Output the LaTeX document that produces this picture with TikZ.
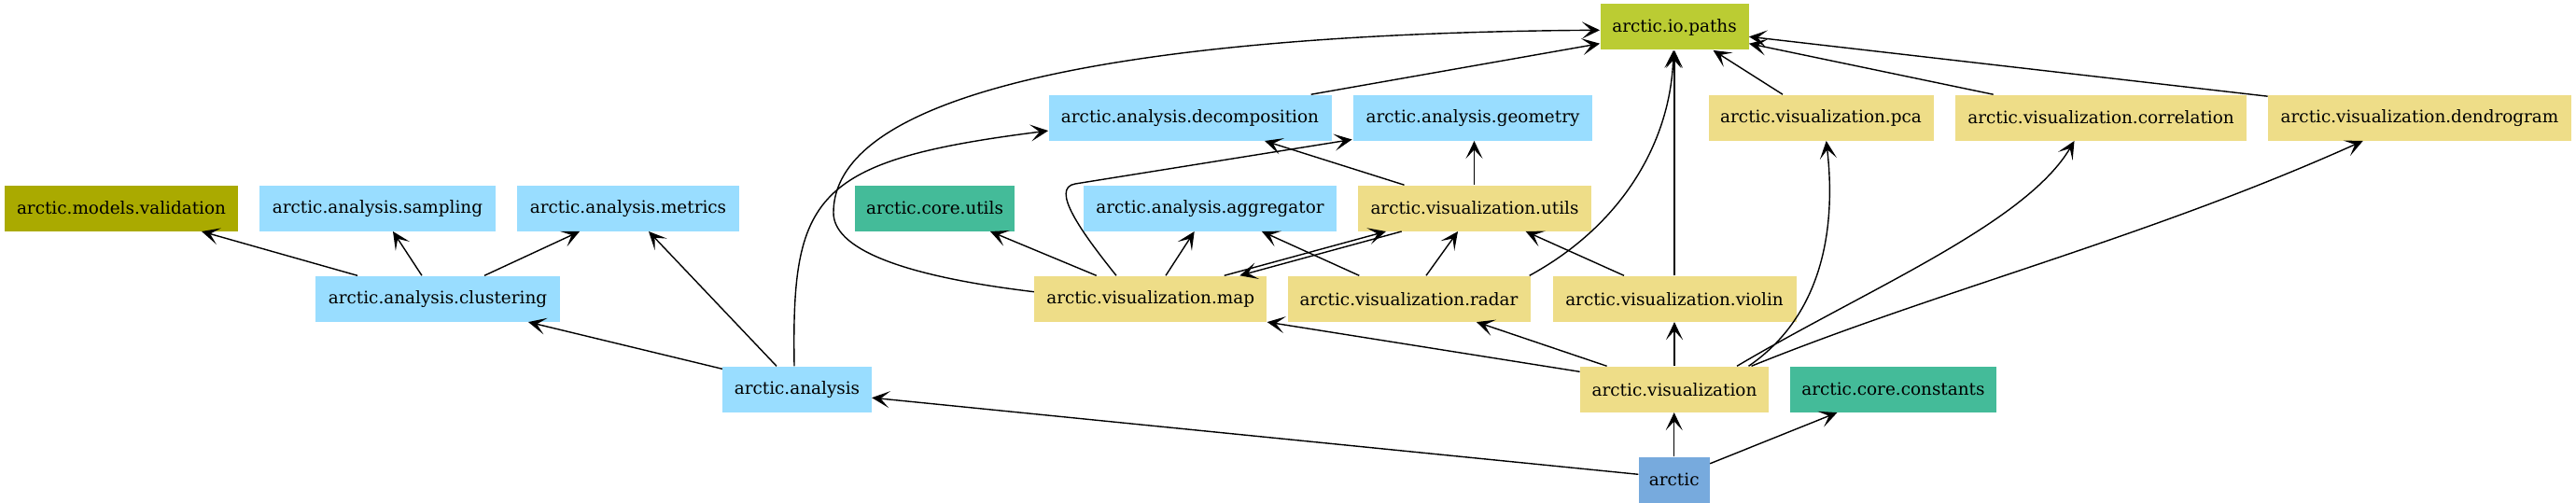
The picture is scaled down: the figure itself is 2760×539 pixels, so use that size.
\documentclass[tikz,border=0pt]{standalone}
\usepackage{fontspec}
\setmainfont{DejaVu Serif}
\usetikzlibrary{arrows.meta,calc}
\definecolor{cblue}{HTML}{99DDFF}
\definecolor{cyel}{HTML}{EEDD88}
\definecolor{cmint}{HTML}{44BB99}
\definecolor{cpear}{HTML}{BBCC33}
\definecolor{colive}{HTML}{AAAA00}
\definecolor{carctic}{HTML}{77AADD}
\begin{document}
\begin{tikzpicture}[x=0.5pt,y=-0.5pt,
  bx/.style={minimum width=#1*0.5pt, minimum height=24.5pt, inner sep=0pt, font=\fontsize{9.2}{11}\selectfont},
  e/.style={draw, line width=0.7pt, -{Stealth[length=9.5pt,width=9pt,inset=4.8pt]}}]
\useasboundingbox (0,0) rectangle (2760,539);
\node[bx=159, fill=cpear] (paths) at (1794,29) {arctic.io.paths};
\node[bx=303, fill=cblue] (decomp) at (1275,126.1) {arctic.analysis.decomposition};
\node[bx=256, fill=cblue] (geom) at (1578,126.1) {arctic.analysis.geometry};
\node[bx=241, fill=cyel] (pca) at (1951,126.1) {arctic.visualization.pca};
\node[bx=312, fill=cyel] (corr) at (2251,126.1) {arctic.visualization.correlation};
\node[bx=325, fill=cyel] (dendro) at (2592.5,126.1) {arctic.visualization.dendrogram};
\node[bx=250.5, fill=colive] (valid) at (130,223.1) {arctic.models.validation};
\node[bx=253, fill=cblue] (sampl) at (404.5,223.1) {arctic.analysis.sampling};
\node[bx=237.5, fill=cblue] (metr) at (673,223.1) {arctic.analysis.metrics};
\node[bx=171.4, fill=cmint] (cutils) at (1001.5,223.1) {arctic.core.utils};
\node[bx=271.7, fill=cblue] (aggr) at (1296.5,223.1) {arctic.analysis.aggregator};
\node[bx=250.7, fill=cyel] (vutils) at (1580,223.1) {arctic.visualization.utils};
\node[bx=262, fill=cblue] (clust) at (469,320.2) {arctic.analysis.clustering};
\node[bx=249, fill=cyel] (vmap) at (1232.7,320.2) {arctic.visualization.map};
\node[bx=260, fill=cyel] (radar) at (1509.5,320.2) {arctic.visualization.radar};
\node[bx=261, fill=cyel] (violin) at (1794,320.2) {arctic.visualization.violin};
\node[bx=159.5, fill=cblue] (analysis) at (854,417.2) {arctic.analysis};
\node[bx=202, fill=cyel] (vis) at (1794,417.2) {arctic.visualization};
\node[bx=221.6, fill=cmint] (cconst) at (2028.4,417.2) {arctic.core.constants};
\node[bx=76, fill=carctic] (arctic) at (1793.7,514.3) {arctic};
% arctic
\draw[e] ($(arctic.west)+(0,-6)$) -- ($(analysis.east)+(0,9)$);
\draw[e] (arctic.north) -- (arctic.north |- vis.south);
\draw[e] ($(arctic.east)+(0,-17.5)$) -- ($(cconst.south)+(-60,0)$);
% analysis
\draw[e] ($(analysis.north west)+(0,3)$) -- ($(clust.south)+(97,0)$);
\draw[e] ($(analysis.north)+(-22,0)$) -- ($(metr.south)+(22,0)$);
\draw[e] ($(analysis.north)+(-3,0)$) .. controls (848,210) and (870,172) .. ($(decomp.west)+(0,14)$);
% clustering
\draw[e] ($(clust.north)+(-86,0)$) -- ($(valid.south)+(86,0)$);
\draw[e] ($(clust.north)+(-17,0)$) -- ($(sampl.south)+(16.5,0)$);
\draw[e] ($(clust.north)+(50,0)$) -- ($(metr.south)+(-52,0)$);
% visualization.map
\draw[e] ($(vmap.west)+(0,-7.5)$) .. controls (960,295) and (893,265) .. (893,228) .. controls (893,80) and (1300,35) .. ($(paths.west)+(0,3.3)$);
\draw[e] ($(vmap.north)+(-58,0)$) -- ($(cutils.south)+(59.5,0)$);
\draw[e] ($(vmap.north)+(-36.7,0)$) .. controls (1158,248) and (1125,201.4) .. (1152,197) -- ($(geom.south west)+(-1,-1.5)$);
\draw[e] ($(vmap.north)+(16.3,0)$) -- ($(aggr.south)+(-16.8,0)$);
\draw[e] ($(vmap.north)+(79,0)$) -- ($(vutils.south)+(-95,0)$);
% visualization.utils
\draw[e] ($(vutils.south)+(-78.3,0)$) -- ($(vmap.north)+(95.6,0)$);
\draw[e] ($(vutils.north)+(-75.5,0)$) -- ($(decomp.south)+(80,0)$);
\draw[e] ($(vutils.north)+(-0.5,0)$) -- ($(geom.south)+(1.5,0)$);
% decomposition
\draw[e] ($(decomp.north)+(129.7,0)$) -- ($(paths.west)+(0,17.7)$);
% radar
\draw[e] ($(radar.north)+(-53.2,0)$) -- ($(aggr.south)+(55.4,0)$);
\draw[e] ($(radar.north)+(18.5,0)$) -- ($(vutils.south)+(-18,0)$);
\draw[e] ($(radar.north east)+(-1.2,0)$) .. controls (1740,240) and (1790,150) .. ($(paths.south)+(-1,0)$);
% violin
\draw[e] ($(violin.north)+(-54,0)$) -- ($(vutils.south)+(54.7,0)$);
\draw[e] (violin.north) -- (paths.south);
% visualization
\draw[e] (vis.north) -- (violin.south);
\draw[e] ($(vis.north)+(-72.4,0)$) -- ($(radar.south)+(72.5,0)$);
\draw[e] ($(vis.north west)+(0,6)$) -- (vmap.south east);
\draw[e] ($(vis.north)+(79.5,0)$) .. controls (1950,340) and (1968,250) .. ($(pca.south)+(5.7,0)$);
\draw[e] ($(vis.north)+(67,0)$) .. controls (2000,310) and (2170,240) .. ($(corr.south)+(-28.5,0)$);
\draw[e] ($(vis.north)+(82.5,0)$) .. controls (2080,310) and (2300,255) .. ($(dendro.south)+(-60.8,0)$);
% to io.paths
\draw[e] ($(pca.north)+(-41,0)$) -- ($(paths.south)+(41.5,0)$);
\draw[e] ($(corr.north)+(-115.4,0)$) -- ($(paths.east)+(0,17.7)$);
\draw[e] ($(dendro.north west)+(0,2)$) -- ($(paths.east)+(0,10.3)$);
\end{tikzpicture}
\end{document}
